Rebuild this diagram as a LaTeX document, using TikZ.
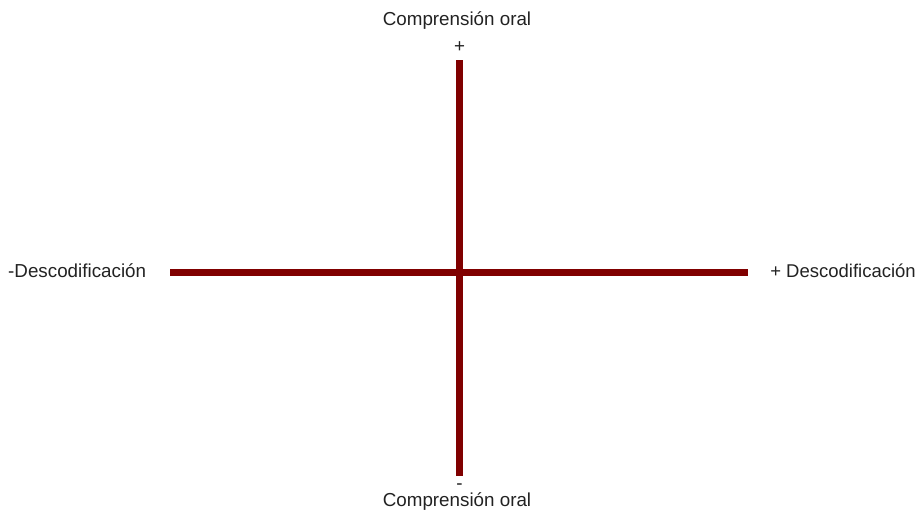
\documentclass[tikz,border=0pt]{standalone}
\usepackage{fontspec}
\setmainfont{Liberation Sans}
\definecolor{axisred}{HTML}{800000}
\definecolor{txt}{HTML}{222222}
\begin{document}
\begin{tikzpicture}[x=1pt,y=-1pt,
  axis/.style={draw=axisred,line width=7pt},
  lbl/.style={inner sep=0pt,text=txt,font=\fontsize{18.8}{21}\selectfont}]
\useasboundingbox (0,0) rectangle (917,513);
\coordinate (vtop) at (459.5,60.5);
\coordinate (vbot) at (459.5,476);
\coordinate (hleft) at (170,272.5);
\coordinate (hright) at (748,272.5);
\draw[axis] (vtop) -- (vbot);
\draw[axis] (hleft) -- (hright);
\node[lbl,anchor=base] (ctop) at (457,26) {Comprensión oral};
\node[lbl,anchor=base] (plus) at (459.5,53) {+};
\node[lbl,anchor=base] (minus) at (459.5,489) {-};
\node[lbl,anchor=base] (cbot) at (457,506) {Comprensión oral};
\node[lbl,anchor=base west] (dleft) at (8,277.5) {-Descodificación};
\node[lbl,anchor=base east,font=\fontsize{18.5}{21}\selectfont] (dright) at (916,277.5) {+ Descodificación};
\end{tikzpicture}
\end{document}
